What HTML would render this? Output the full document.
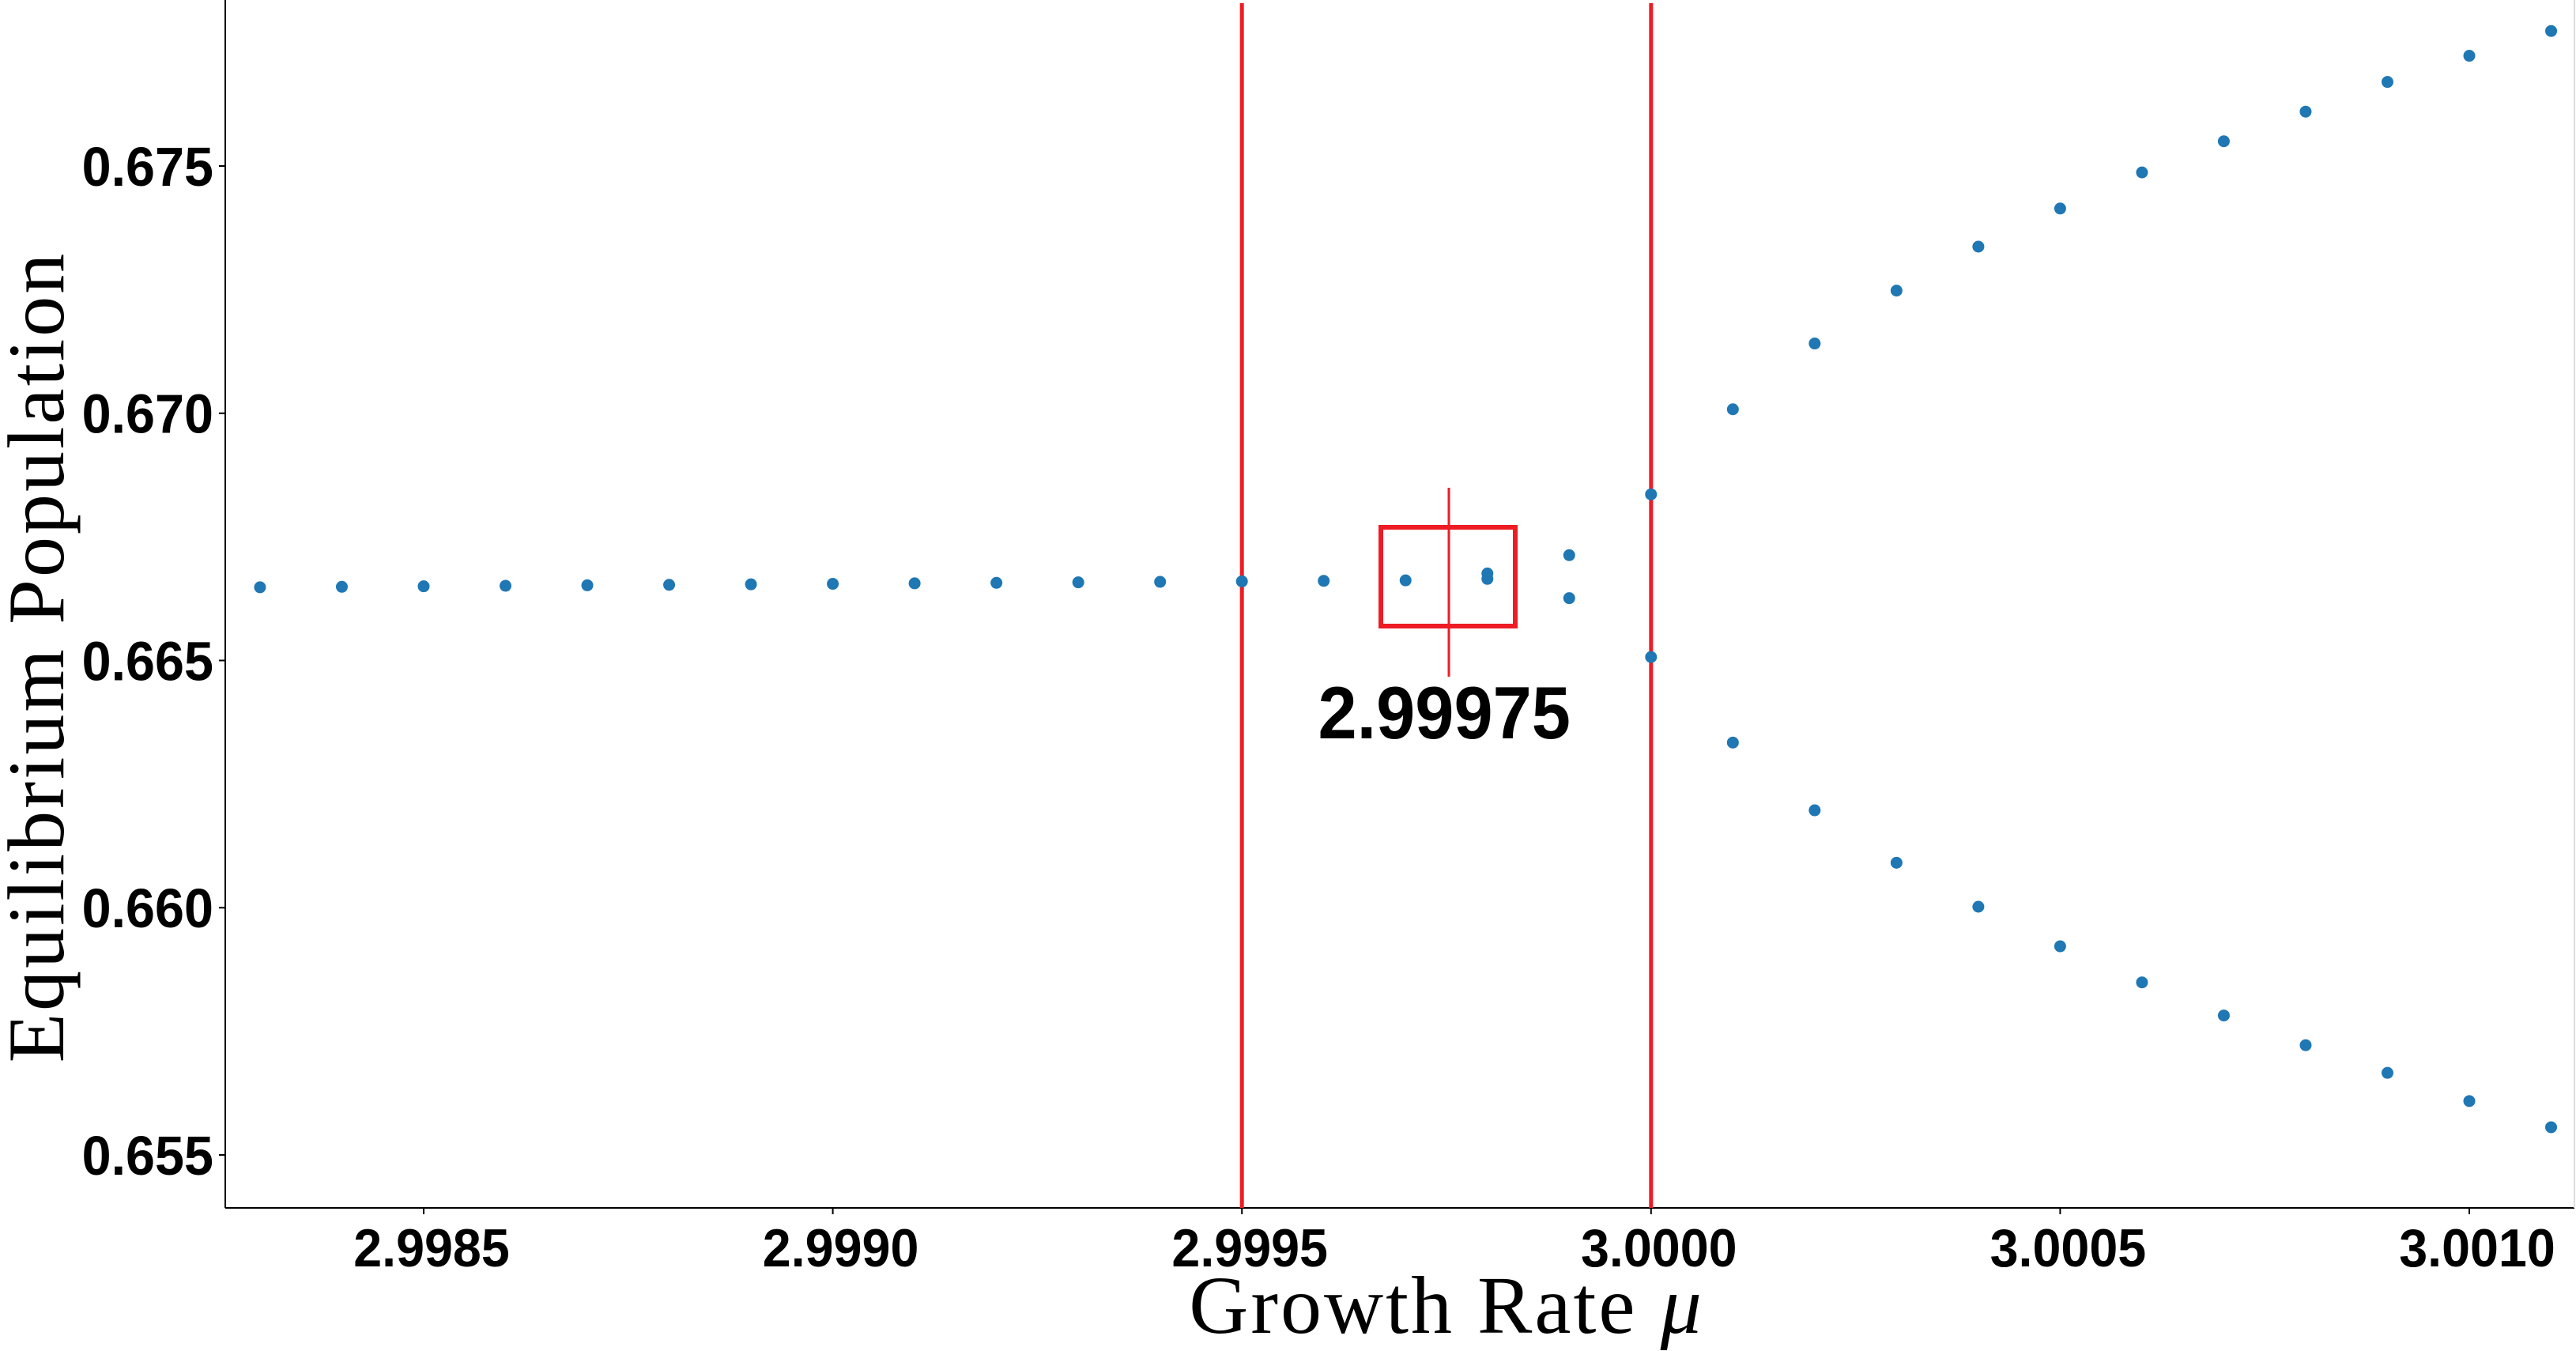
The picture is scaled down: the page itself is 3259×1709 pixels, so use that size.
<!DOCTYPE html>
<html><head><meta charset="utf-8"><style>
html,body{margin:0;padding:0;background:#fff;}
svg{display:block;}
</style></head><body>
<svg id="chart" width="3259" height="1709" viewBox="0 0 3259 1709" xmlns="http://www.w3.org/2000/svg">
<g id="plot"></g>
</svg>
<script>
const xTicks = [2.9985, 2.9990, 2.9995, 3.0000, 3.0005, 3.0010];
const xTickLabels = ["2.9985", "2.9990", "2.9995", "3.0000", "3.0005", "3.0010"];
const yTicks = [0.655, 0.660, 0.665, 0.670, 0.675];
const yTickLabels = ["0.655", "0.660", "0.665", "0.670", "0.675"];
const muValues = [2.9983,2.9984,2.9985,2.9986,2.9987,2.9988,2.9989,2.9990,2.9991,2.9992,2.9993,2.9994,2.9995,2.9996,2.9997,2.9998,2.9998,2.9999,2.9999,3.0000,3.0000,3.0001,3.0001,3.0002,3.0002,3.0003,3.0003,3.0004,3.0004,3.0005,3.0005,3.0006,3.0006,3.0007,3.0007,3.0008,3.0008,3.0009,3.0009,3.0010,3.0010,3.0011,3.0011];
const popValues = [0.66648,0.66649,0.66650,0.66651,0.66652,0.66653,0.66654,0.66655,0.66656,0.66657,0.66658,0.66659,0.66660,0.66661,0.66662,0.66676,0.66665,0.66713,0.66626,0.66836,0.66507,0.67008,0.66334,0.67141,0.66197,0.67248,0.66091,0.67337,0.66002,0.67414,0.65922,0.67487,0.65849,0.67550,0.65782,0.67610,0.65722,0.67670,0.65666,0.67723,0.65609,0.67773,0.65556];
const redLines = [2.9995, 3.0000];
const markedMu = 2.99975;
const markedLabel = "2.99975";

const NS = "http://www.w3.org/2000/svg";
const L = 285, R = 3257, T = 0, B = 1528;
function xS(v){ return 536 + (v - 2.9985) / 0.0005 * 517.6; }
function yS(v){ return 210 + (0.675 - v) / 0.005 * 312.75; }
const g = document.getElementById('plot');
function mk(tag, attrs, parent){
  const e = document.createElementNS(NS, tag);
  for (const k in attrs) e.setAttribute(k, attrs[k]);
  (parent || g).appendChild(e);
  return e;
}
const tickFont = '"Liberation Sans", sans-serif';
let e = mk('line', {x1:L, y1:T, x2:L, y2:B, stroke:'#000', 'stroke-width':2});


e = mk('line', {x1:L, y1:B, x2:R, y2:B, stroke:'#000', 'stroke-width':2});


e = mk('line', {x1:R, y1:T, x2:R, y2:B, stroke:'#ddd', 'stroke-width':2});


xTicks.forEach((v, i) => {
  const t = mk('line', {x1:xS(v), y1:B, x2:xS(v), y2:B+8, stroke:'#000', 'stroke-width':2});
  
  
  const cx = xS(v) + 10;
  const tx = mk('text', {x:cx, y:1602, 'text-anchor':'middle', 'font-family':tickFont, 'font-weight':'bold', 'font-size':68, transform:`translate(${cx},0) scale(0.95,1) translate(${-cx},0)`});
  tx.textContent = xTickLabels[i];
  
  
});
yTicks.forEach((v, i) => {
  const t = mk('line', {x1:L-8, y1:yS(v), x2:L, y2:yS(v), stroke:'#000', 'stroke-width':2});
  
  
  const tx = mk('text', {x:270, y:yS(v)+25, 'text-anchor':'end', 'font-family':tickFont, 'font-weight':'bold', 'font-size':70, transform:`translate(270,0) scale(0.95,1) translate(-270,0)`});
  tx.textContent = yTickLabels[i];
  
  
});
redLines.forEach(v => {
  const l = mk('line', {x1:xS(v), y1:4, x2:xS(v), y2:B, stroke:'#ee1c24', 'stroke-width':5});
  
  
});
muValues.forEach((m, i) => {
  const c = mk('circle', {cx:xS(m), cy:yS(popValues[i]), r:7.5, fill:'#1f77b4'});
  
  
});
const mx = xS(markedMu);
e = mk('rect', {x:mx-83, y:667, width:170, height:125, fill:'none', stroke:'#ee1c24', 'stroke-width':6});


e = mk('line', {x1:mx+3, y1:617, x2:mx+3, y2:856, stroke:'#ee1c24', 'stroke-width':3});


e = mk('text', {x:mx-3, y:934, 'text-anchor':'middle', 'font-family':tickFont, 'font-weight':'bold', 'font-size':94, transform:`translate(${mx},0) scale(0.94,1) translate(${-mx},0)`});
e.textContent = markedLabel;


e = mk('text', {x:1830, y:1686, 'text-anchor':'middle', 'font-family':'"Liberation Serif", serif', 'font-size':104, 'letter-spacing':3});
e.innerHTML = 'Growth Rate <tspan font-style="italic">μ</tspan>';


e = mk('text', {x:0, y:0, 'text-anchor':'middle', 'font-family':'"Liberation Serif", serif', 'font-size':102, 'letter-spacing':3, transform:'translate(80,831) rotate(-90)'});
e.textContent = 'Equilibrium Population';


</script>
</body></html>
